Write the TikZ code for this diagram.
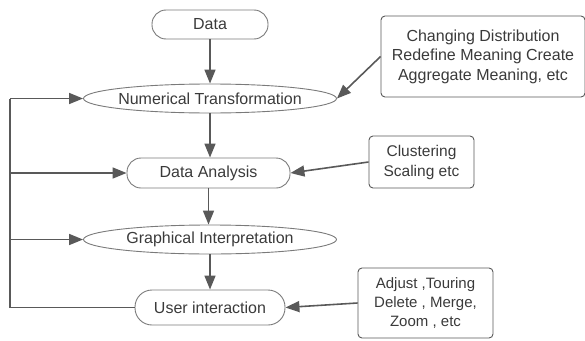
\documentclass[tikz,border=0pt]{standalone}
\usepackage{fontspec}
\setmainfont{Liberation Sans}
\usetikzlibrary{arrows.meta,shapes.geometric}
\definecolor{linec}{HTML}{595959}
\definecolor{shapec}{HTML}{7A7A7A}
\definecolor{textc}{HTML}{3A3A3A}
\begin{document}
\begin{tikzpicture}[x=1pt,y=-1pt,
  base/.style={draw=shapec,line width=0.9pt,text=textc,font=\fontsize{16}{18}\selectfont,inner sep=0pt},
  ell/.style={base,ellipse},
  term/.style={base,rectangle,rounded corners=14pt},
  note/.style={base,draw=linec,rectangle,rounded corners=4pt,align=center},
  conn/.style={draw=linec,line width=1.6pt,-{Triangle[length=14pt,width=11pt]}},
  plain/.style={draw=linec,line width=1.6pt}]
\useasboundingbox (0,0) rectangle (585,340);
\node[term,minimum width=116pt,minimum height=29pt] (data) at (210,24.5) {Data};
\node[ell,minimum width=253pt,minimum height=29pt] (nt) at (210,98.5) {\makebox[0pt]{Numerical Transformation}};
\node[term,minimum width=163pt,minimum height=30pt] (da) at (208.5,173) {Data Analysis};
\node[ell,minimum width=253pt,minimum height=29pt] (gi) at (210,239.5) {\makebox[0pt]{Graphical Interpretation}};
\node[term,minimum width=150pt,minimum height=35pt,rounded corners=17pt] (ui) at (210,307.5) {User interaction};
\node[note,minimum width=204pt,minimum height=81pt,font=\fontsize{16}{19.5}\selectfont] (b1) at (483,56.5) {Changing Distribution\\Redefine Meaning Create\\Aggregate Meaning, etc};
\node[note,minimum width=105pt,minimum height=52pt,font=\fontsize{15.5}{20}\selectfont] (b2) at (421.5,162) {Clustering\\Scaling etc};
\node[note,minimum width=135pt,minimum height=70pt,font=\fontsize{15}{19}\selectfont] (b3) at (425.5,303) {Adjust ,Touring\\Delete , Merge,\\Zoom , etc};
\draw[conn] (data) -- (nt);
\draw[conn] (nt) -- (nt |- da.north);
\draw[conn] (da) -- (da |- gi.north);
\draw[conn] (gi) -- (gi |- ui.north);
\draw[conn] (b1.west) -- (nt.east);
\draw[conn] (b2.west) -- (da.east);
\draw[conn] (b3.west) -- (ui.east);
\coordinate (lb) at (10,307.5);
\coordinate (lt) at (10,98.5);
\draw[plain] (ui.west) -- (lb) -- (lt);
\draw[conn] (lt) -- (nt.west);
\draw[conn] (lt |- da.west) -- (da.west);
\draw[conn] (lt |- gi.west) -- (gi.west);
\end{tikzpicture}
\end{document}
